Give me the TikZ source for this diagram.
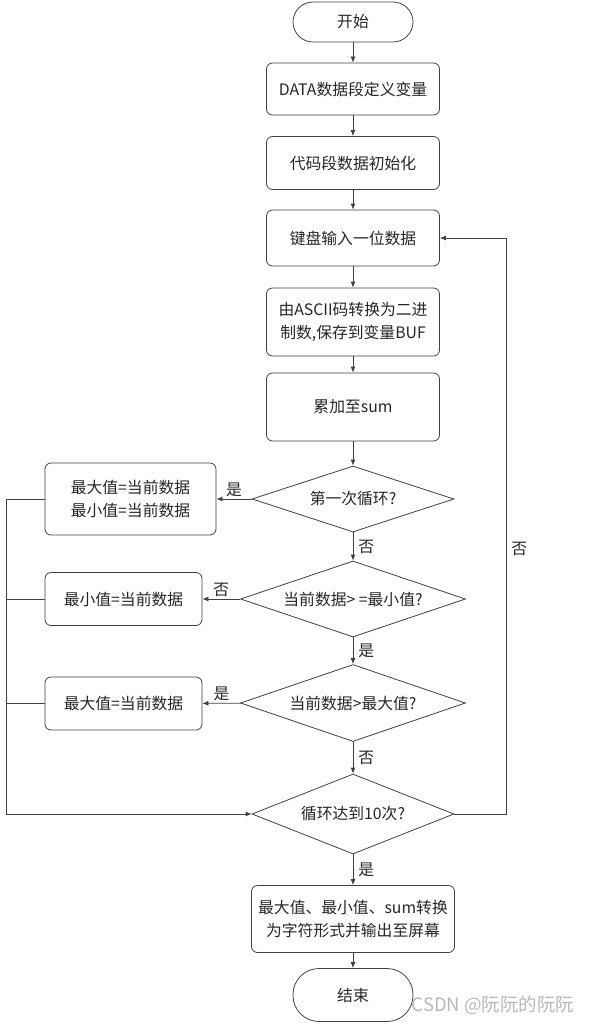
\documentclass[tikz,border=0pt]{standalone}
\usepackage{fontspec}
\setmainfont{Noto Sans CJK SC}
\usetikzlibrary{arrows.meta,shapes.geometric}

\begin{document}
\begin{tikzpicture}[x=1pt,y=-1pt,>={Latex[length=6pt,width=5pt]},
  font=\fontsize{15.8}{22.5}\selectfont,
  box/.style={draw=black!75,line width=.8pt,rounded corners=6pt,align=center,
    text=black!85,minimum width=173pt,minimum height=53pt,inner sep=2pt},
  term/.style={draw=black!75,line width=.8pt,rounded corners=20pt,
    text=black!85,minimum width=120pt,minimum height=40pt},
  cond/.style={draw=black!75,line width=.8pt,diamond,aspect=3,inner sep=0pt,
    text=black!85},
  lbl/.style={inner sep=2pt,text=black!85},
  flow/.style={->,line width=.8pt,draw=black!75},
  link/.style={line width=.8pt,draw=black!75}]
\useasboundingbox (0,0) rectangle (594,1025);
\node[term] (start) at (353,22) {开始};
\node[box,minimum height=52pt] (define) at (353,89) {DATA数据段定义变量};
\node[box] (init) at (353,163) {代码段数据初始化};
\node[box,minimum height=56pt] (input) at (353,238) {键盘输入一位数据};
\node[box,minimum height=68pt] (convert) at (353,322)
  {由ASCII码转换为二进\\制数,保存到变量BUF};
\node[box,minimum height=68pt] (accum) at (353,407) {累加至sum};
\node[cond,minimum width=202pt,minimum height=66pt] (first) at (353,499)
  {第一次循环?};
\node[cond,minimum width=225pt,minimum height=76pt] (cmpmin) at (353,599)
  {当前数据> =最小值?};
\node[cond,minimum width=225pt,minimum height=77pt] (cmpmax) at (353,703)
  {当前数据>最大值?};
\node[cond,minimum width=202pt,minimum height=80pt] (count) at (353,814)
  {循环达到10次?};
\node[box,minimum width=171pt,minimum height=72pt] (setboth) at (130.5,499)
  {最大值=当前数据\\最小值=当前数据};
\node[box,minimum width=157pt] (setmin) at (123.5,599) {最小值=当前数据};
\node[box,minimum width=157pt] (setmax) at (123.5,703.5) {最大值=当前数据};
\node[box,minimum width=203pt,minimum height=67pt] (output) at (353,919)
  {最大值、最小值、sum转换\\为字符形式并输出至屏幕};
\node[term,minimum height=53pt,rounded corners=26pt] (stop) at (353,995) {结束};
\node[text=black!28,font=\fontsize{18.5}{20}\selectfont] (mark) at (493,1005)
  {CSDN @阮阮的阮阮};
\coordinate (rail) at (6,499);
\coordinate (back) at (506,238);
\draw[flow] (start)--(define);
\draw[flow] (define)--(init);
\draw[flow] (init)--(input);
\draw[flow] (input)--(convert);
\draw[flow] (convert)--(accum);
\draw[flow] (accum)--(first);
\draw[flow] (first)-- node[lbl,above] (yes1) {是} (setboth);
\draw[flow] (first)-- node[lbl,right=3pt] (no1) {否} (cmpmin);
\draw[flow] (cmpmin)-- node[lbl,above] (no2) {否} (setmin);
\draw[flow] (cmpmin)-- node[lbl,right=3pt] (yes2) {是} (cmpmax);
\draw[flow] (cmpmax)-- node[lbl,above] (yes3) {是} (setmax);
\draw[flow] (cmpmax)-- node[lbl,right=3pt] (no3) {否} (count);
\draw[flow] (count)-- node[lbl,right=3pt] (yes4) {是} (output);
\draw[flow] (output)--(stop);
\draw[link] (setboth)--(rail);
\draw[link] (setmin)--(setmin-|rail);
\draw[link] (setmax)--(setmax-|rail);
\draw[flow] (rail)|-(count);
\draw[flow] (count)-| node[lbl,right=3pt,pos=.73] (no4) {否} (back)--(input);
\end{tikzpicture}
\end{document}
